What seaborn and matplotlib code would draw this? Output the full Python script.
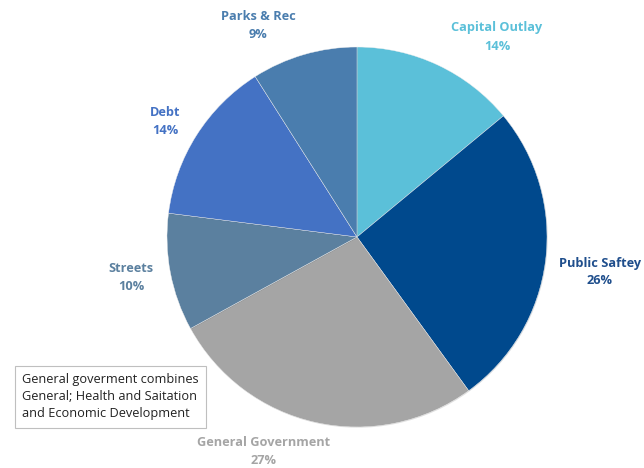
import matplotlib
matplotlib.use("Agg")
import matplotlib.pyplot as plt
import matplotlib.patheffects as pe
import seaborn as sns

categories = ["Capital Outlay", "Public Saftey", "General Government", "Streets", "Debt", "Parks & Rec"]
shares = [14, 26, 27, 10, 14, 9]
slice_colors = ["#5BC0D9", "#00498D", "#A5A5A5", "#5B809F", "#4472C4", "#4A7DAE"]
label_colors = ["#5BC0D9", "#1F4E8C", "#A5A5A5", "#5B809F", "#4472C4", "#4A7DAE"]
note = "General goverment combines\nGeneral; Health and Saitation\nand Economic Development"

# label anchor points in pixels (x from left, y from top)
label_pos = [(497, 37), (600, 272), (264, 451), (131, 277), (165, 121), (258, 26)]

sns.set_theme(style="white")
plt.rcParams["font.family"] = ["Open Sans", "DejaVu Sans"]

fig = plt.figure(figsize=(6.44, 4.68), dpi=100)
ax = fig.add_axes([0, 0, 1, 1])

wedges, _ = ax.pie(shares, colors=slice_colors, startangle=90, counterclock=False,
                   center=(357, 468 - 237), radius=190, frame=True,
                   wedgeprops=dict(linewidth=0.3, edgecolor="#f0f0f0"))
for w in wedges:
    w.set_path_effects([pe.SimplePatchShadow(offset=(0.5, -0.5), alpha=0.15), pe.Normal()])
ax.set_xlim(0, 644)
ax.set_ylim(0, 468)
ax.set_aspect("equal")
ax.axis("off")

for name, val, col, (px, py) in zip(categories, shares, label_colors, label_pos):
    ax.text(px, 468 - py, f"{name}\n{val}%", color=col, fontsize=9.2, fontweight="bold",
            ha="center", va="center", linespacing=1.5)

ax.text(22, 468 - 397, note, fontsize=9.2, color="#222222", ha="left", va="center",
        linespacing=1.4,
        bbox=dict(boxstyle="square,pad=0.55", facecolor="white", edgecolor="#BFBFBF", linewidth=0.8))

fig.savefig("out.png", dpi=100)
